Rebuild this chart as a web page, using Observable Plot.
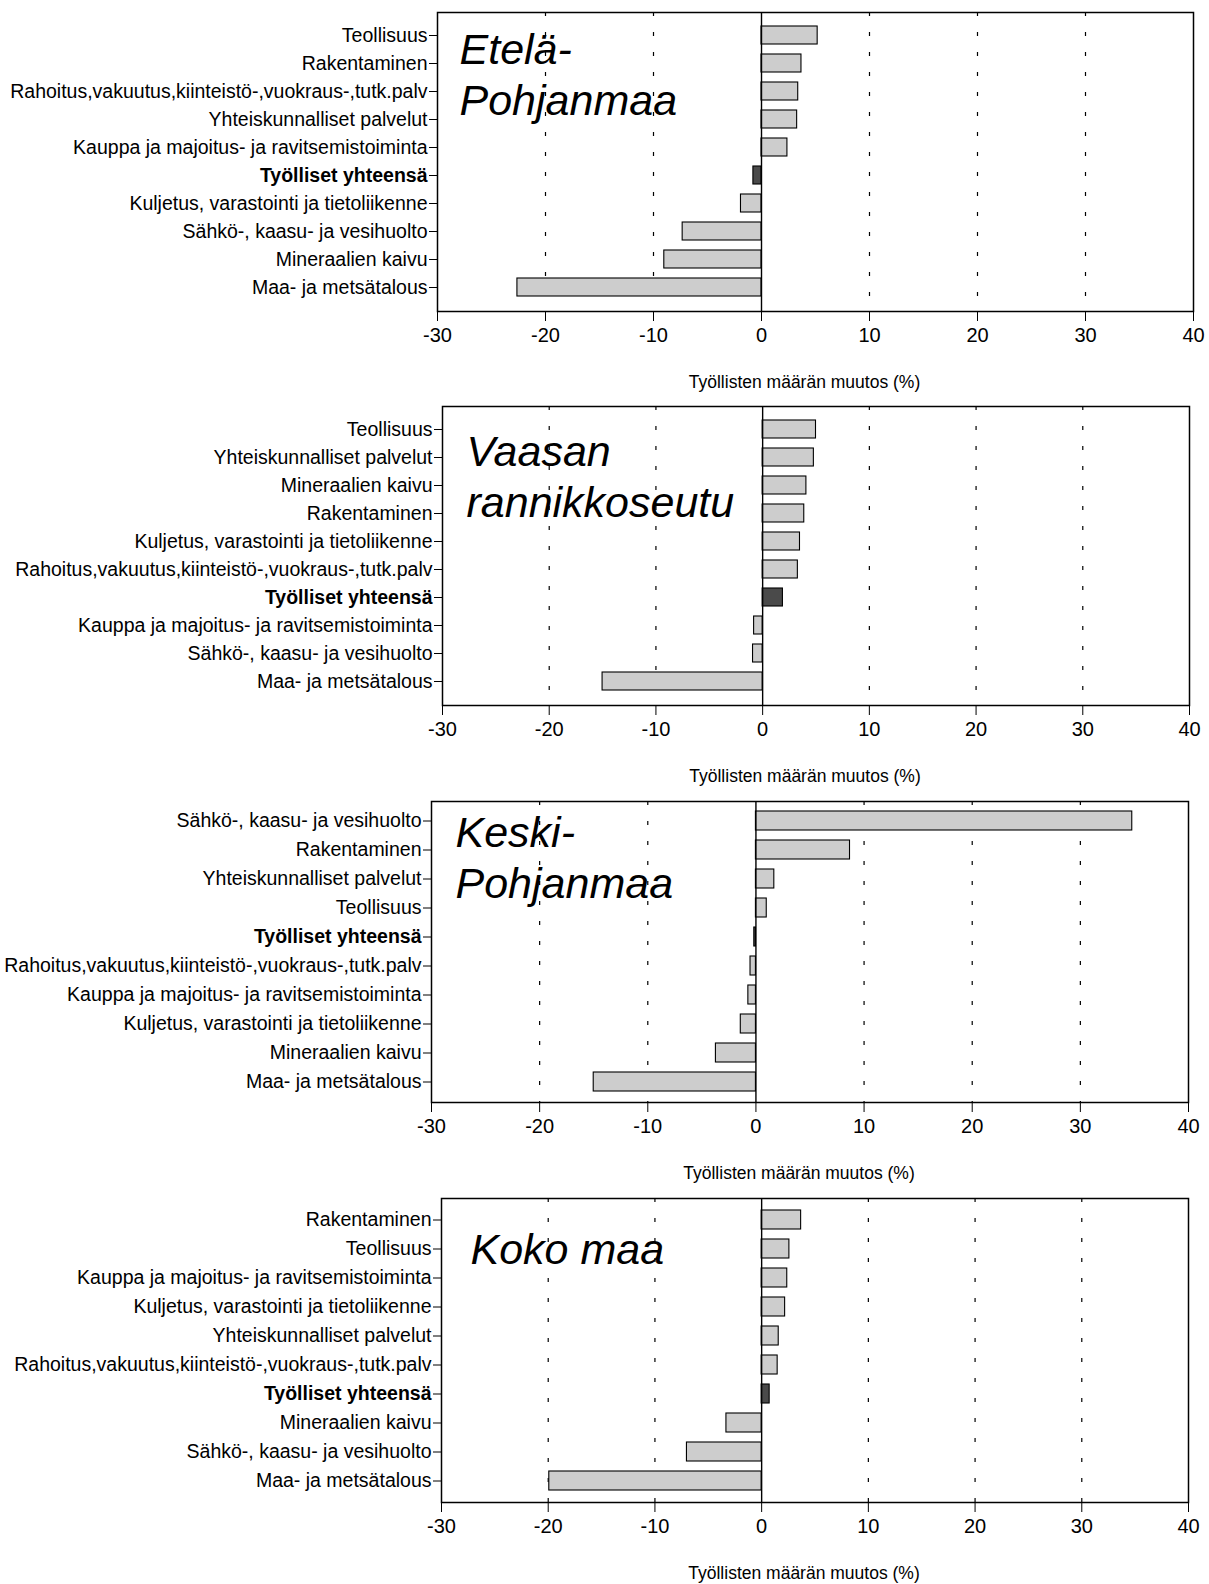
<!DOCTYPE html>
<html>
<head>
<meta charset="utf-8">
<script src="https://cdn.jsdelivr.net/npm/d3@7"></script>
<script src="https://cdn.jsdelivr.net/npm/@observablehq/plot@0.6"></script>
<style>
  html, body { margin: 0; padding: 0; background: #fff; }
  #charts svg { display: block; }
</style>
</head>
<body>
<div id="charts"></div>
<script>
// ---- shared axis data ----
const xTicks = [-30, -20, -10, 0, 10, 20, 30, 40];
const gridTicks = [-20, -10, 10, 20, 30];
const xLabel = "Työllisten määrän muutos (%)";
const totalLabel = "Työlliset yhteensä";

// ---- Etelä-Pohjanmaa ----
const etelaTitle = "Etelä-\nPohjanmaa";
const etelaCategories = [
  "Teollisuus",
  "Rakentaminen",
  "Rahoitus,vakuutus,kiinteistö-,vuokraus-,tutk.palv",
  "Yhteiskunnalliset palvelut",
  "Kauppa ja majoitus- ja ravitsemistoiminta",
  "Työlliset yhteensä",
  "Kuljetus, varastointi ja tietoliikenne",
  "Sähkö-, kaasu- ja vesihuolto",
  "Mineraalien kaivu",
  "Maa- ja metsätalous"
];
const etelaValues = [5.2, 3.7, 3.4, 3.3, 2.4, -0.75, -1.9, -7.3, -9.0, -22.6];

// ---- Vaasan rannikkoseutu ----
const vaasaTitle = "Vaasan\nrannikkoseutu";
const vaasaCategories = [
  "Teollisuus",
  "Yhteiskunnalliset palvelut",
  "Mineraalien kaivu",
  "Rakentaminen",
  "Kuljetus, varastointi ja tietoliikenne",
  "Rahoitus,vakuutus,kiinteistö-,vuokraus-,tutk.palv",
  "Työlliset yhteensä",
  "Kauppa ja majoitus- ja ravitsemistoiminta",
  "Sähkö-, kaasu- ja vesihuolto",
  "Maa- ja metsätalous"
];
const vaasaValues = [5.0, 4.8, 4.1, 3.9, 3.5, 3.3, 1.9, -0.8, -0.9, -15.0];

// ---- Keski-Pohjanmaa ----
const keskiTitle = "Keski-\nPohjanmaa";
const keskiCategories = [
  "Sähkö-, kaasu- ja vesihuolto",
  "Rakentaminen",
  "Yhteiskunnalliset palvelut",
  "Teollisuus",
  "Työlliset yhteensä",
  "Rahoitus,vakuutus,kiinteistö-,vuokraus-,tutk.palv",
  "Kauppa ja majoitus- ja ravitsemistoiminta",
  "Kuljetus, varastointi ja tietoliikenne",
  "Mineraalien kaivu",
  "Maa- ja metsätalous"
];
const keskiValues = [34.8, 8.7, 1.7, 1.0, -0.15, -0.5, -0.7, -1.4, -3.7, -15.0];

// ---- Koko maa ----
const kokoTitle = "Koko maa";
const kokoCategories = [
  "Rakentaminen",
  "Teollisuus",
  "Kauppa ja majoitus- ja ravitsemistoiminta",
  "Kuljetus, varastointi ja tietoliikenne",
  "Yhteiskunnalliset palvelut",
  "Rahoitus,vakuutus,kiinteistö-,vuokraus-,tutk.palv",
  "Työlliset yhteensä",
  "Mineraalien kaivu",
  "Sähkö-, kaasu- ja vesihuolto",
  "Maa- ja metsätalous"
];
const kokoValues = [3.7, 2.6, 2.4, 2.2, 1.6, 1.5, 0.75, -3.3, -7.0, -19.9];

const font = "'Liberation Sans', Arial, Helvetica, sans-serif";

function panel(title, cats, vals, L) {
  const data = cats.map((c, i) => ({cat: c, value: vals[i], total: c === totalLabel}));
  const plot = Plot.plot({
    width: 1209,
    height: L.height,
    marginLeft: L.left,
    marginRight: 1209 - L.right,
    marginTop: L.top,
    marginBottom: L.bottom,
    style: {fontFamily: font, background: "#fff", color: "#000", overflow: "visible"},
    x: {domain: [-30, 40]},
    y: {domain: cats, padding: 0.34},
    marks: [
      Plot.ruleX(gridTicks, {stroke: "#000", strokeWidth: 1.2, strokeDasharray: "4,16"}),
      Plot.barX(data, {
        x: "value", y: "cat",
        fill: d => d.total ? "#4a4a4a" : "#cdcdcd",
        stroke: "#000", strokeWidth: 1.1
      }),
      Plot.ruleX([0], {stroke: "#000", strokeWidth: 1.4}),
      Plot.frame({stroke: "#000", strokeWidth: 1.5}),
      Plot.axisX({ticks: xTicks, tickSize: 10, tickPadding: 6, fontSize: 20, label: null, tickFormat: d => String(d)}),
      Plot.axisY({tickSize: 8, tickPadding: 2, fontSize: 19.5, label: null}),
      Plot.text([xLabel], {frameAnchor: "bottom", dx: -11, dy: 71, fontSize: 17.5, lineAnchor: "middle"}),
      Plot.text([title], {
        frameAnchor: "top-left", textAnchor: "start",
        dx: L.tdx, dy: L.tdy,
        fontSize: 43, fontStyle: "italic", lineHeight: 1.19
      })
    ]
  });
  d3.select(plot).selectAll("text")
    .filter(function() { return this.textContent === totalLabel; })
    .attr("font-weight", "bold");
  return plot;
}

const container = document.getElementById("charts");
const layouts = [
  {title: etelaTitle, cats: etelaCategories, vals: etelaValues,
   L: {height: 394, top: 12, bottom: 83, left: 437, right: 1193, tdx: 22, tdy: 15}},
  {title: vaasaTitle, cats: vaasaCategories, vals: vaasaValues,
   L: {height: 396, top: 12, bottom: 85, left: 442, right: 1189, tdx: 24, tdy: 23}},
  {title: keskiTitle, cats: keskiCategories, vals: keskiValues,
   L: {height: 395, top: 11, bottom: 83, left: 431, right: 1188, tdx: 24, tdy: 9}},
  {title: kokoTitle, cats: kokoCategories, vals: kokoValues,
   L: {height: 399, top: 13, bottom: 82, left: 441, right: 1188, tdx: 29, tdy: 29}}
];
for (const p of layouts) container.appendChild(panel(p.title, p.cats, p.vals, p.L));
</script>
</body>
</html>
